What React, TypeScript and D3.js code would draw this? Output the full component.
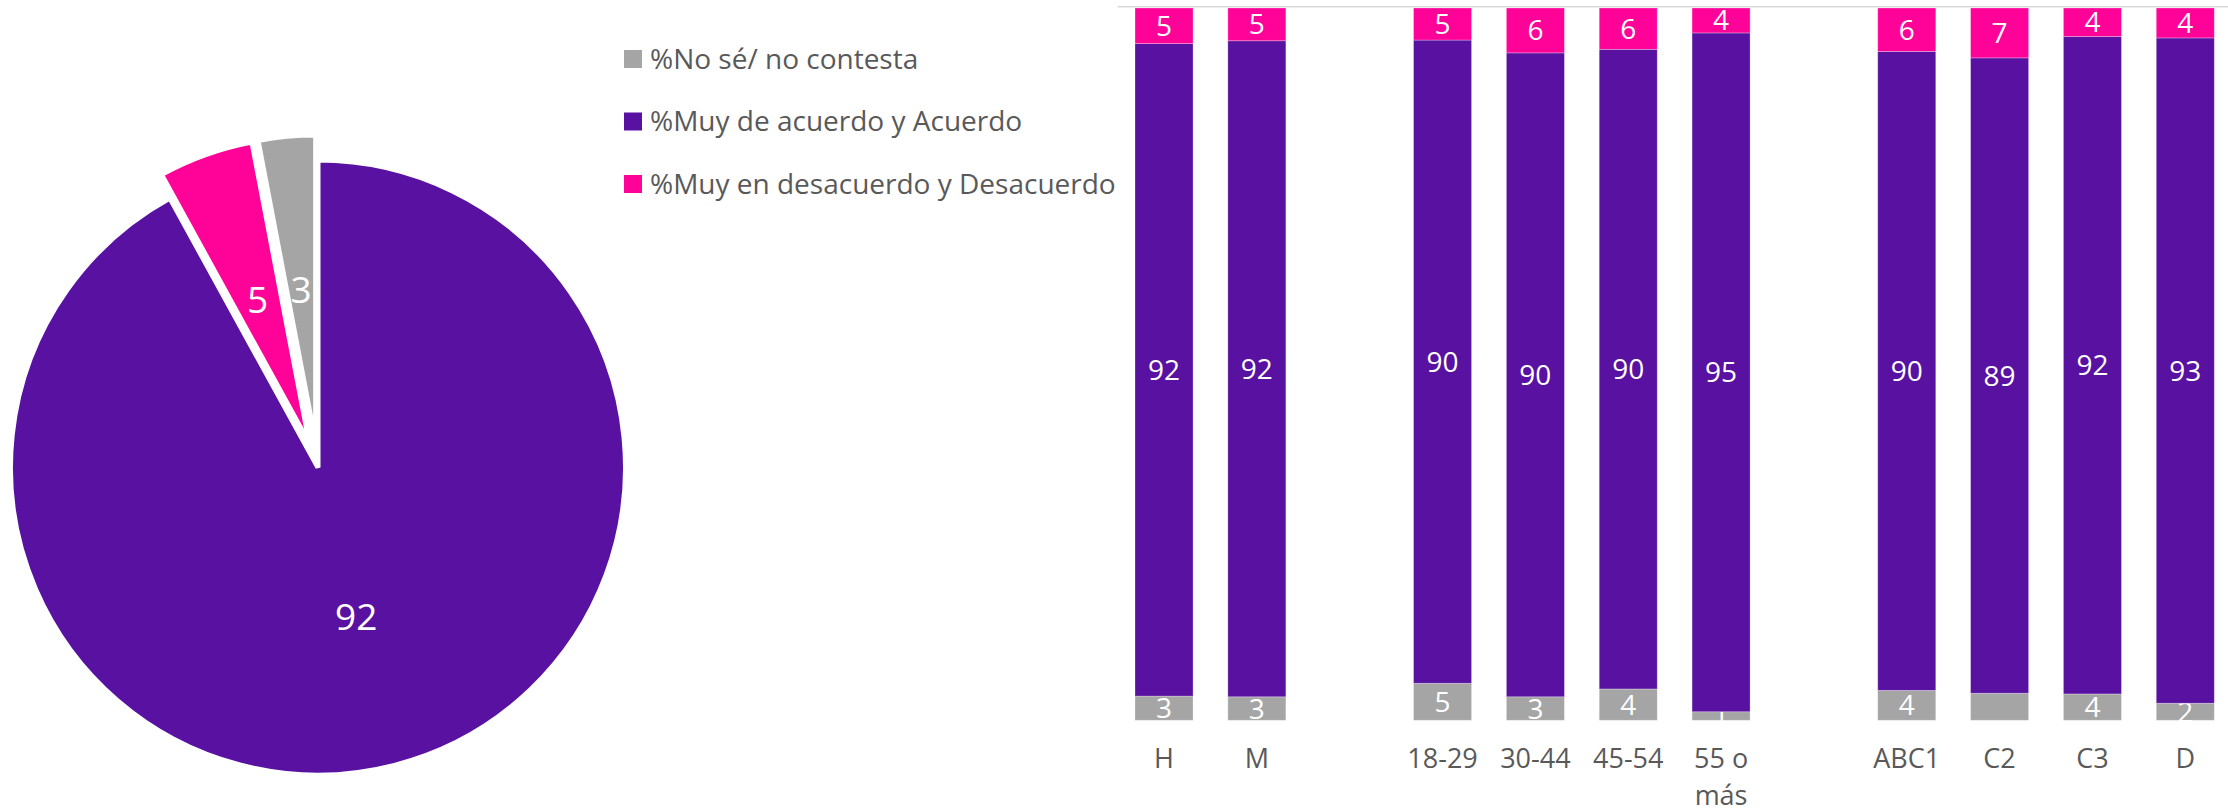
import React from "react";
import * as d3 from "d3";

// ---------- DATA ----------
const seriesNames = ["%No sé/ no contesta", "%Muy de acuerdo y Acuerdo", "%Muy en desacuerdo y Desacuerdo"];
const seriesColors = ["#A5A5A5", "#5811A1", "#FF0399"];

// pie (order drawn clockwise from 12 o'clock: acuerdo, desacuerdo, no sé)
const pieLabels = ["%Muy de acuerdo y Acuerdo", "%Muy en desacuerdo y Desacuerdo", "%No sé/ no contesta"];
const pieValues = [92, 5, 3];
const pieColors = ["#5811A1", "#FF0399", "#A5A5A5"];
const pieExploded = [false, true, true];

// bars
const categories = ["H", "M", "18-29", "30-44", "45-54", "55 o más", "ABC1", "C2", "C3", "D"];
const groups = [0, 0, 1, 1, 1, 1, 2, 2, 2, 2];
const noSe = [3.4, 3.3, 5.2, 3.3, 4.4, 1.2, 4.2, 3.8, 3.7, 2.4];
const acuerdo = [91.6, 92.1, 90.3, 90.4, 89.8, 95.3, 89.7, 89.2, 92.3, 93.4];
const desacuerdo = [5.0, 4.6, 4.5, 6.3, 5.8, 3.5, 6.1, 7.0, 4.0, 4.2];
const hiddenLabels = ["C2:noSe"];

const FONT = "'Open Sans', 'Noto Sans', sans-serif";
const TEXT = "#595959";

export default function App() {
  // ---- pie ----
  const cx = 318, cy = 467.5, R = 307.5, explode = 25;
  const pie = d3.pie<number>().sort(null).startAngle(0).endAngle(2 * Math.PI)(pieValues);
  const arc = d3.arc<d3.PieArcDatum<number>>().innerRadius(0).outerRadius(R);

  // ---- bars ----
  const slots: string[] = [];
  categories.forEach((c, i) => {
    if (i > 0 && groups[i] !== groups[i - 1]) slots.push("__gap" + i);
    slots.push(c);
  });
  const x = d3.scaleBand<string>().domain(slots).range([1117.6, 2231.7]).paddingInner(0.375).paddingOuter(0.1875);
  const y = d3.scaleLinear().domain([0, 1]).range([720.3, 8]);
  const rows = categories.map((c, i) => ({ cat: c, noSe: noSe[i], acuerdo: acuerdo[i], desacuerdo: desacuerdo[i] }));
  const keys = ["noSe", "acuerdo", "desacuerdo"];
  const stack = d3.stack<any>().keys(keys).offset(d3.stackOffsetExpand)(rows);

  const wrap = (s: string) => {
    if (s.length > 6 && s.includes(" ")) {
      const k = s.lastIndexOf(" ");
      return [s.slice(0, k), s.slice(k + 1)];
    }
    return [s];
  };

  return (
    <svg width={2228} height={812} style={{ position: "absolute", left: 0, top: 0, display: "block" }} fontFamily={FONT}>
      <rect width={2228} height={812} fill="#fff" />
      {/* PIE */}
      <g>
        {pie.map((d, i) => {
          const mid = (d.startAngle + d.endAngle) / 2;
          const off = pieExploded[i] ? explode : 0;
          const tx = cx + Math.sin(mid) * off;
          const ty = cy - Math.cos(mid) * off;
          const [lx, ly] = arc.centroid(d);
          return (
            <g key={i} transform={`translate(${tx},${ty})`}>
              <path d={arc(d) || ""} fill={pieColors[i]} stroke="#fff" strokeWidth={5} strokeLinejoin="miter" />
              <text x={lx} y={ly + 37 * 0.357} textAnchor="middle" fontSize={37} fill="#fff">
                {d3.format("d")(pieValues[i])}
              </text>
            </g>
          );
        })}
      </g>
      {/* LEGEND */}
      <g>
        {seriesNames.map((n, i) => {
          const yc = 59 + i * 62.5;
          return (
            <g key={n}>
              <rect x={624} y={yc - 9} width={18} height={18} fill={seriesColors[i]} />
              <text x={650} y={yc + 9.5} fontSize={28} fill={TEXT}>{n}</text>
            </g>
          );
        })}
      </g>
      {/* BARS */}
      <line x1={1117.6} x2={2228} y1={6.7} y2={6.7} stroke="#D9D9D9" strokeWidth={1.4} />
      {stack.map((s, si) => (
        <g key={s.key} fill={seriesColors[si]}>
          {s.map((d, i) => {
            const cat = categories[i];
            const bx = x(cat)!;
            const y0 = y(d[0]);
            const y1 = y(d[1]);
            const val = (rows[i] as any)[s.key as string];
            const hidden = hiddenLabels.includes(cat + ":" + s.key);
            return (
              <g key={cat}>
                <rect x={bx} y={y1} width={x.bandwidth()} height={y0 - y1} stroke="#ffffff" strokeOpacity={0.35} strokeWidth={0.8} />
                {!hidden && (
                  <text x={bx + x.bandwidth() / 2} y={(y0 + y1) / 2 + 28 * 0.357} textAnchor="middle" fontSize={28} fill="#fff">
                    {Math.round(val)}
                  </text>
                )}
              </g>
            );
          })}
        </g>
      ))}
      {/* X AXIS LABELS */}
      {categories.map((c) => (
        <text key={c} x={x(c)! + x.bandwidth() / 2} y={768} textAnchor="middle" fontSize={27} fill={TEXT}>
          {wrap(c).map((line, li) => (
            <tspan key={li} x={x(c)! + x.bandwidth() / 2} dy={li === 0 ? 0 : 36.5}>{line}</tspan>
          ))}
        </text>
      ))}
    </svg>
  );
}
